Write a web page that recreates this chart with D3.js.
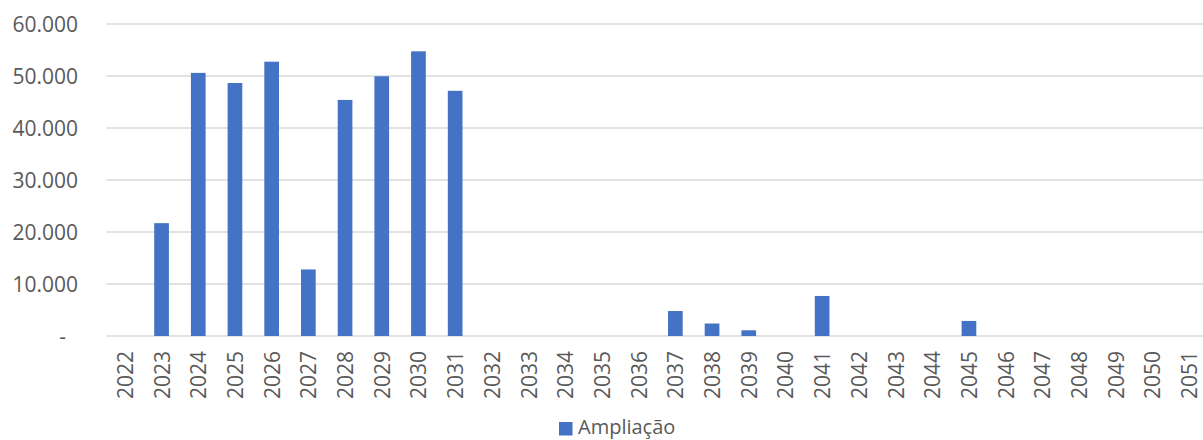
<!DOCTYPE html>
<html><head><meta charset="utf-8">
<script src="https://cdn.jsdelivr.net/npm/d3@7"></script>
<style>body{margin:0;background:#fff;} svg{display:block;}</style>
</head><body>
<svg id="c" width="1203" height="440"></svg>
<script>
const years = ["2022","2023","2024","2025","2026","2027","2028","2029","2030","2031","2032","2033","2034","2035","2036","2037","2038","2039","2040","2041","2042","2043","2044","2045","2046","2047","2048","2049","2050","2051"];
const ampliacao = [0,21700,50600,48650,52750,12800,45400,49950,54750,47150,0,0,0,0,0,4800,2400,1100,0,7700,0,0,0,2900,0,0,0,0,0,0];
const yTicks = [0,10000,20000,30000,40000,50000,60000];
const yTickLabels = ["-","10.000","20.000","30.000","40.000","50.000","60.000"];
const seriesName = "Ampliação";

const svg = d3.select("#c");
const font = "'Open Sans', 'Noto Sans', sans-serif";
const x = d3.scaleBand().domain(years).range([106.5, 1207.5]).paddingInner(0.6).paddingOuter(0.3);
const y = d3.scaleLinear().domain([0,60000]).range([336,24]);

// gridlines
svg.append("g").selectAll("line").data(yTicks).join("line")
  .attr("x1",106.5).attr("x2",1207.5)
  .attr("y1",d=>y(d)).attr("y2",d=>y(d))
  .attr("stroke","#d9d9d9").attr("stroke-width",1.5);

// y labels
svg.append("g").selectAll("text").data(yTicks).join("text")
  .attr("x",(d,i)=> d===0 ? 66 : 78)
  .attr("y",d=>y(d))
  .attr("text-anchor","end").attr("dominant-baseline","central")
  .attr("font-family",font).attr("font-size",21).attr("fill","#595959")
  .text((d,i)=>yTickLabels[i]);

// bars
svg.append("g").selectAll("rect").data(years).join("rect")
  .attr("x",d=>x(d)).attr("width",x.bandwidth())
  .attr("y",(d,i)=>y(ampliacao[i]))
  .attr("height",(d,i)=>y(0)-y(ampliacao[i]))
  .attr("fill","#4472C4");

// x labels
svg.append("g").selectAll("text").data(years).join("text")
  .attr("transform",d=>`translate(${x(d)+x.bandwidth()/2},351) rotate(-90)`)
  .attr("text-anchor","end").attr("dominant-baseline","central")
  .attr("font-family",font).attr("font-size",21).attr("fill","#595959")
  .text(d=>d);

// legend
const lg = svg.append("g");
lg.append("rect").attr("x",559).attr("y",422).attr("width",13.5).attr("height",13.5).attr("fill","#4472C4");
lg.append("text").attr("x",578).attr("y",426.5).attr("dominant-baseline","central")
  .attr("font-family",font).attr("font-size",20).attr("fill","#595959").text(seriesName);
</script>
</body></html>
